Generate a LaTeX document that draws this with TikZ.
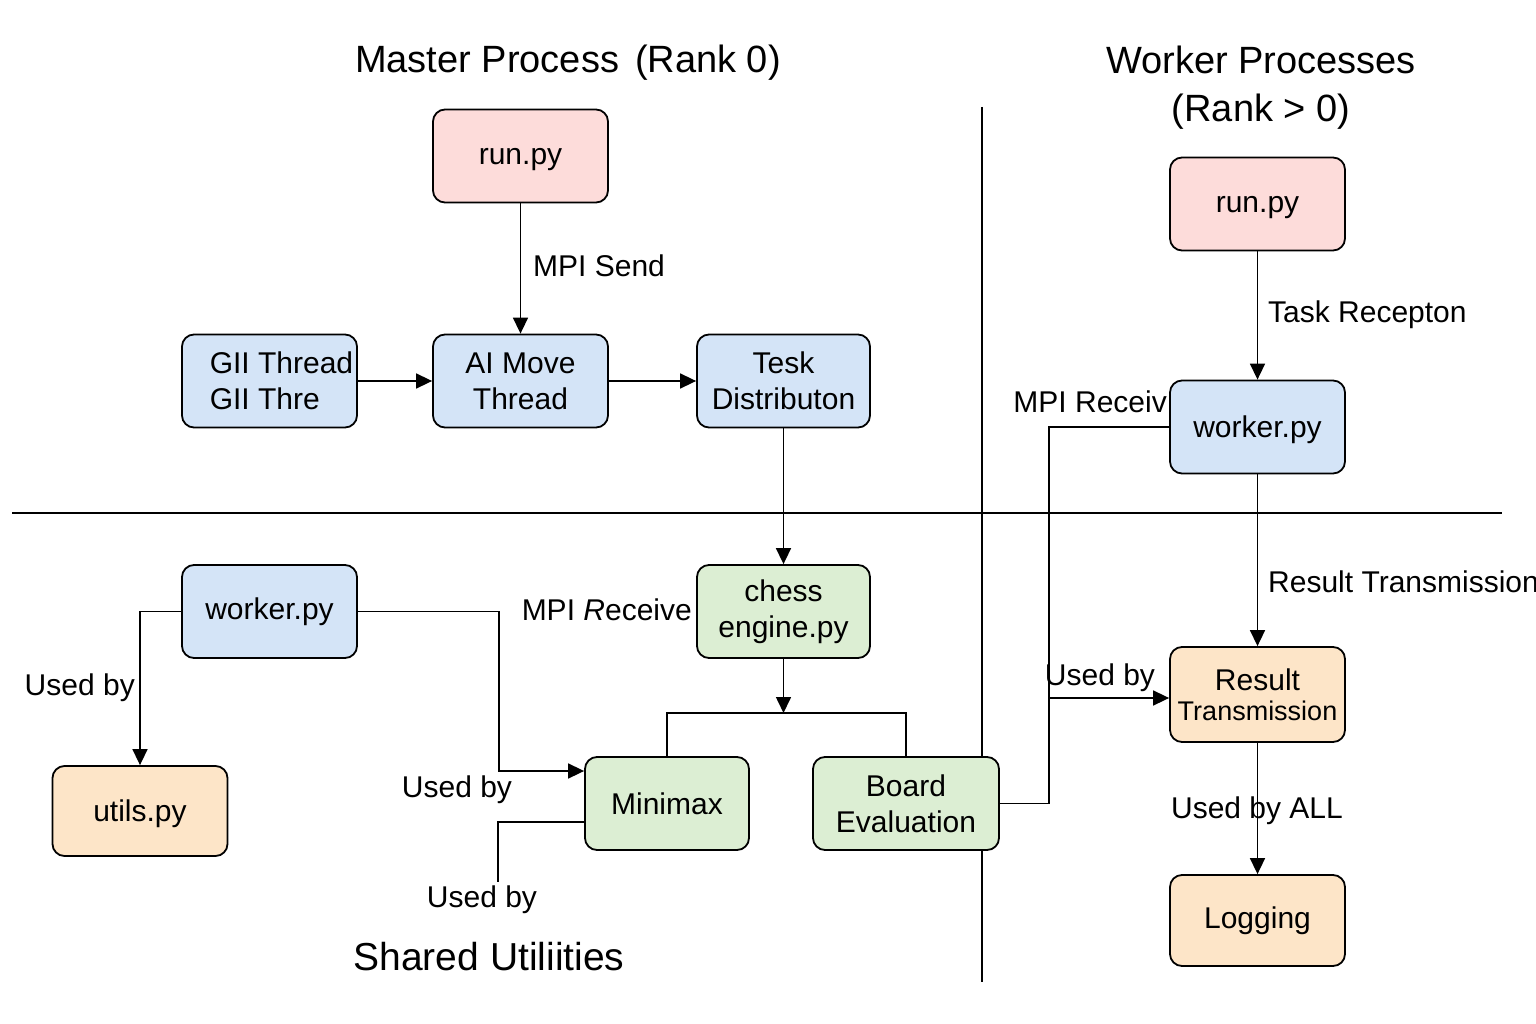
\documentclass[tikz,border=0pt]{standalone}
\usepackage{fontspec}
\setmainfont{Liberation Sans}
\usepackage{xcolor}
\usetikzlibrary{calc, arrows.meta}

\definecolor{runpink}{HTML}{FDDCDA}
\definecolor{threadblue}{HTML}{D4E4F7}
\definecolor{enginegreen}{HTML}{DCEED3}
\definecolor{utilorange}{HTML}{FDE5C8}

\begin{document}
\begin{tikzpicture}[x=1pt, y=-1pt,
		box/.style={draw, line width=1.8pt, rounded corners=12pt, minimum width=175pt, minimum height=93pt, align=center, inner sep=2pt, font=\fontsize{30}{36}\selectfont},
		pinkbox/.style={box, fill=runpink},
		bluebox/.style={box, fill=threadblue},
		greenbox/.style={box, fill=enginegreen},
		orangebox/.style={box, fill=utilorange},
		link/.style={line width=1.6pt},
		arr/.style={link, -{Triangle[length=16pt, width=15pt]}},
		lbl/.style={inner sep=0pt, font=\fontsize{30}{36}\selectfont},
		title/.style={inner sep=0pt, font=\fontsize{38}{48}\selectfont, align=center}
	]
	\useasboundingbox (0,0) rectangle (1536,1024);

	% dividers
	\draw[link] (982,107) -- (982,982);
	\draw[link] (12,513) -- (1502,513);

	% titles
	\node[title] (mastertitle) at (568,63) {Master Process\hspace{16pt}(Rank 0)};
	\node[title] (workertitle) at (1261,88) {Worker Processes\\(Rank > 0)};
	\node[title, font=\fontsize{39}{48}\selectfont] (sharedtitle) at (489,957) {Shared Utiliities};

	% master side
	\node[pinkbox, text depth=0pt] (mrun) at (520.5,156) {run.py};
	\node[bluebox, align=left] (gui) at (269.5,381) {\hspace*{24pt}GII Thread\\\hspace*{24pt}GII Thre};
	\node[bluebox] (aimove) at (520.5,381) {AI Move\\Thread};
	\node[bluebox, minimum width=173pt] (task) at (783.5,381) {Tesk\\Distributon};
	\node[greenbox, minimum width=173pt] (chess) at (783.5,611.5) {chess\\engine.py};
	\node[greenbox, minimum width=164pt] (minimax) at (667,803.5) {Minimax};
	\node[greenbox, minimum width=186pt] (board) at (906,803.5) {Board\\Evaluation};

	% shared utilities
	\node[bluebox] (lworker) at (269.5,611.5) {worker.py};
	\node[orangebox, minimum height=90pt, text depth=0pt] (utils) at (140,811) {utils.py};

	% worker side
	\node[pinkbox, text depth=0pt] (wrun) at (1257.5,204) {run.py};
	\node[bluebox, text depth=0pt] (wworker) at (1257.5,427) {worker.py};
	\node[orangebox, minimum height=95pt] (result) at (1257.5,694.5) {Result\\[-6pt]{\fontsize{27}{30}\selectfont Transmission}};
	\node[orangebox, minimum height=91pt] (logging) at (1257.5,920.5) {Logging};

	\coordinate (split) at (783.5,713);
	\coordinate (junc) at (1048,698);
	\coordinate (usedend) at (498,882);

	% connectors
	\draw[arr] (mrun) -- (aimove);
	\draw[arr] (gui) -- (aimove);
	\draw[arr] (aimove) -- (task);
	\draw[arr] (task) -- (chess);
	\draw[arr] (chess) -- (split);
	\draw[link] (minimax.north) |- (split) -| (board.north);
	\draw[arr] (lworker.west) -| (utils.north);
	\draw[arr] (lworker.east) -- ++(141,0) |- ([yshift=32.5pt]minimax.west);
	\draw[link] ([yshift=-18.5pt]minimax.west) -| (usedend);
	\draw[link] (board.east) -- ++(49,0) |- (wworker.west);
	\draw[arr] (junc) -- (junc -| result.west);
	\draw[arr] (wrun) -- (wworker);
	\draw[arr] (wworker) -- (result);
	\draw[arr] (result) -- (logging);

	% labels
	\node[lbl, anchor=west] (mpisend) at (533,266) {MPI Send};
	\node[lbl, anchor=west] (taskrecv) at (1268,315) {Task Recepton};
	\node[lbl, anchor=east] (mpirecvw) at (1167,402) {MPI Receiv};
	\node[lbl, anchor=east] (mpirecvm) at (692,610) {MPI \textit{R}eceive};
	\node[lbl, anchor=east] (usedutils) at (135,688) {Used by};
	\node[lbl] (usedmini) at (457,790) {Used by};
	\node[lbl] (usedshared) at (482,900) {Used by};
	\node[lbl] (usedresult) at (1100,678) {Used by};
	\node[lbl, anchor=west] (resulttx) at (1268,582) {Result Transmission};
	\node[lbl] (usedall) at (1257,811) {Used by ALL};
\end{tikzpicture}
\end{document}
